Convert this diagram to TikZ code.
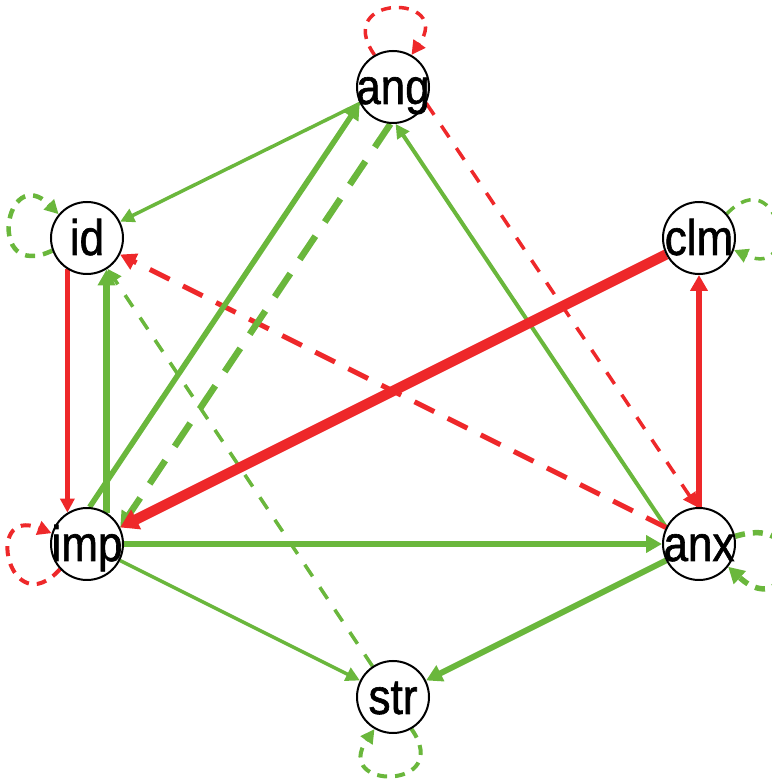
\documentclass[tikz,border=0pt]{standalone}
\usepackage{fontspec}
\newfontfamily\nodefont[FakeStretch=0.88,FakeBold=1.2]{Liberation Sans}
\usetikzlibrary{arrows.meta,backgrounds}
\definecolor{qgreen}{RGB}{106,183,60}
\definecolor{qred}{RGB}{238,40,42}
\tikzset{
  vert/.style={circle, draw=black, line width=2pt, fill=white, minimum size=72pt,
    inner sep=0pt, text height=34pt, text depth=0pt,
    font=\nodefont\fontsize{50pt}{50pt}\selectfont},
  posedge/.style={color=qgreen},
  negedge/.style={color=qred},
  tipa/.style={-{Triangle[length=14pt,width=14pt]}},
  tipb/.style={-{Triangle[length=16pt,width=17pt]}},
  tipc/.style={-{Triangle[length=18pt,width=21pt]}},
  dthin/.style={dash pattern=on 14pt off 13pt},
  dmed/.style={dash pattern=on 22pt off 15pt},
  dthick/.style={dash pattern=on 28pt off 17pt},
  dloop/.style={dash pattern=on 10pt off 8pt},
}
\begin{document}
\begin{tikzpicture}[x=1pt,y=1pt]
\useasboundingbox (0,0) rectangle (771,779);
\clip (0,0) rectangle (771,779);
\node[vert] (ang) at (393,692) {\makebox[0pt]{ang}};
\node[vert] (id)  at (87,541)  {\makebox[0pt]{id}};
\node[vert] (clm) at (699,541) {\makebox[0pt]{clm}};
\node[vert] (imp) at (87,235)  {\makebox[0pt]{imp}};
\node[vert] (anx) at (699,235) {\makebox[0pt]{anx}};
\node[vert] (str) at (393,82)  {\makebox[0pt]{str}};

\begin{pgfonlayer}{background}
% loops
\draw[negedge, tipa, dloop, line width=3.5pt] (ang.120) .. controls +(125:75) and +(55:75) .. (ang.60);
\draw[posedge, tipa, dloop, line width=4.5pt] (id.200) .. controls +(205:75) and +(135:75) .. (id.140);
\draw[posedge, tipa, dloop, line width=3.5pt] (clm.41) .. controls +(46:75) and +(-24:75) .. (clm.-19);
\draw[negedge, tipa, dloop, line width=4pt] (imp.223) .. controls +(228:75) and +(158:75) .. (imp.163);
\draw[posedge, tipb, dloop, line width=5.5pt] (anx.12) .. controls +(17:85) and +(-43:85) .. (anx.-38);
\draw[posedge, tipa, dloop, line width=4pt] (str.-60) .. controls +(-55:75) and +(-125:75) .. (str.-120);
% edges, thin to thick
\draw[posedge, tipa, line width=3.5pt] (ang) -- (id);
\draw[negedge, tipa, dthin, line width=3.5pt] (ang.-26.2) -- (anx.93.8);
\draw[posedge, tipa, dthin, line width=3.5pt] (str) -- (id);
\draw[posedge, tipa, line width=3.5pt] (imp) -- (str);
\draw[posedge, tipa, line width=4pt] (anx.153.8) -- (ang.-86.2);
\draw[negedge, tipa, line width=4.5pt] (id.238) -- (imp.122);
\draw[negedge, tipb, dmed, line width=5pt] (anx) -- (id);
\draw[posedge, tipb, line width=5.5pt] (imp.86.2) -- (ang.206.2);
\draw[posedge, tipb, line width=5.5pt] (imp) -- (anx);
\draw[negedge, tipb, line width=5.5pt] (anx) -- (clm);
\draw[posedge, tipb, line width=6pt] (anx) -- (str);
\draw[posedge, tipb, dthick, line width=6.5pt] (ang.266.2) -- (imp.26.2);
\draw[posedge, tipb, line width=7pt] (imp.58) -- (id.302);
\draw[negedge, tipc, line width=10.5pt] (clm) -- (imp);
\end{pgfonlayer}
\end{tikzpicture}
\end{document}
